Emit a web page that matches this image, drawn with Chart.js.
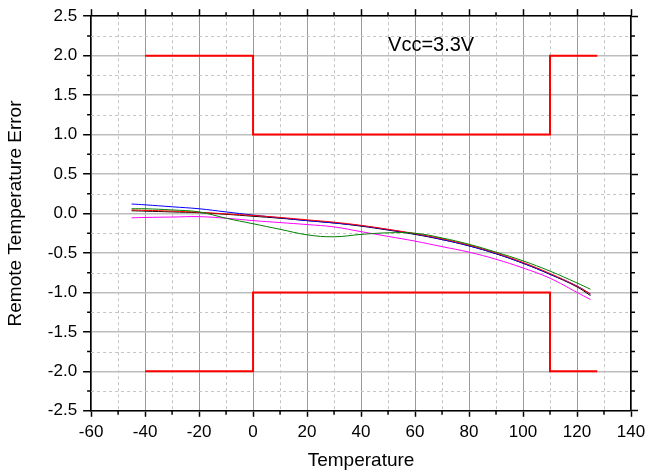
<!DOCTYPE html>
<html>
<head>
<meta charset="utf-8">
<script src="https://cdn.jsdelivr.net/npm/chart.js@4.4.0/dist/chart.umd.min.js"></script>
<style>
  html, body { margin: 0; padding: 0; background: #fff; }
</style>
</head>
<body>
<canvas id="chart" width="647" height="474"></canvas>
<script>
// temperatures where the error curves were sampled
const temps = [-45, -40, -30, -20, -10, 0, 10, 20, 30, 40, 50, 60, 70, 80, 90, 100, 110, 120, 125];

const blackErr   = [0.035, 0.03, 0.02, 0.01, -0.01, -0.035, -0.06, -0.09, -0.12, -0.16, -0.21, -0.265, -0.33, -0.41, -0.51, -0.63, -0.77, -0.93, -1.04];
const redErr     = [0.045, 0.04, 0.03, 0.015, -0.005, -0.025, -0.05, -0.08, -0.11, -0.15, -0.2, -0.255, -0.32, -0.4, -0.5, -0.62, -0.76, -0.92, -1.02];
const blueErr    = [0.12, 0.11, 0.085, 0.06, 0.02, -0.02, -0.055, -0.09, -0.12, -0.155, -0.205, -0.26, -0.33, -0.41, -0.51, -0.63, -0.77, -0.92, -1.02];
const greenErr   = [0.06, 0.06, 0.045, 0.02, -0.06, -0.13, -0.2, -0.27, -0.295, -0.265, -0.245, -0.25, -0.31, -0.39, -0.49, -0.6, -0.73, -0.88, -0.96];
const magentaErr = [-0.055, -0.05, -0.045, -0.04, -0.06, -0.09, -0.115, -0.14, -0.17, -0.23, -0.29, -0.35, -0.42, -0.49, -0.58, -0.69, -0.82, -1.0, -1.09];

// spec limits (red step lines)
const limitTemps = [-40, 0, 0, 110, 110, 127.5];
const upperLimit = [2, 2, 1, 1, 2, 2];
const lowerLimit = [-2, -2, -1, -1, -2, -2];

// minor tick positions
const xMinor = [-50, -30, -10, 10, 30, 50, 70, 90, 110, 130];
const yMinor = [-2.25, -1.75, -1.25, -0.75, -0.25, 0.25, 0.75, 1.25, 1.75, 2.25];

const note = { text: 'Vcc=3.3V', x: 50, y: 2.13 };

const pts = (xs, ys) => xs.map((x, i) => ({ x: x, y: ys[i] }));

const curve = (label, ys, color) => ({
  label: label,
  data: pts(temps, ys),
  borderColor: color,
  borderWidth: 1,
  pointRadius: 0,
  tension: 0.4,
  fill: false
});

const limitLine = (label, ys) => ({
  label: label,
  data: pts(limitTemps, ys),
  borderColor: '#ff0000',
  borderWidth: 2,
  pointRadius: 0,
  tension: 0,
  fill: false
});

const FONT = '"Liberation Sans", Arial, sans-serif';

const minorMarks = {
  id: 'minorMarks',
  beforeDatasetsDraw(chart) {
    const { ctx, chartArea: a, scales: { x, y } } = chart;
    ctx.save();
    ctx.strokeStyle = '#c4c4c4';
    ctx.lineWidth = 1;
    ctx.setLineDash([3, 3]);
    ctx.beginPath();
    xMinor.forEach(v => {
      const px = Math.round(x.getPixelForValue(v)) + 0.5;
      ctx.moveTo(px, a.top);
      ctx.lineTo(px, a.bottom);
    });
    yMinor.forEach(v => {
      const py = Math.round(y.getPixelForValue(v)) + 0.5;
      ctx.moveTo(a.left, py);
      ctx.lineTo(a.right, py);
    });
    ctx.stroke();
    ctx.restore();
  },
  afterDraw(chart) {
    const { ctx, chartArea: a, scales: { x, y } } = chart;
    const len = 4;
    ctx.save();
    ctx.strokeStyle = '#000';
    ctx.lineWidth = 1.5;
    ctx.beginPath();
    xMinor.forEach(v => {
      const px = x.getPixelForValue(v);
      ctx.moveTo(px, a.bottom); ctx.lineTo(px, a.bottom + len);
      ctx.moveTo(px, a.top); ctx.lineTo(px, a.top - len);
    });
    yMinor.forEach(v => {
      const py = y.getPixelForValue(v);
      ctx.moveTo(a.left, py); ctx.lineTo(a.left - len, py);
      ctx.moveTo(a.right, py); ctx.lineTo(a.right + len, py);
    });
    ctx.stroke();

    ctx.fillStyle = '#000';
    ctx.font = '20px ' + FONT;
    ctx.textAlign = 'left';
    ctx.textBaseline = 'middle';
    ctx.fillText(note.text, x.getPixelForValue(note.x), y.getPixelForValue(note.y));
    ctx.restore();
  }
};

const axisBase = {
  type: 'linear',
  border: { display: true, color: '#000', width: 1.5 },
};

new Chart(document.getElementById('chart'), {
  type: 'line',
  data: {
    datasets: [
      limitLine('upper limit', upperLimit),
      limitLine('lower limit', lowerLimit),
      curve('green', greenErr, '#008000'),
      curve('magenta', magentaErr, '#ff00ff'),
      curve('red', redErr, '#ff0000'),
      curve('blue', blueErr, '#0000ff'),
      curve('black', blackErr, '#000000')
    ]
  },
  options: {
    responsive: false,
    animation: false,
    layout: { padding: { top: 9, right: 9, left: 0, bottom: 2 } },
    plugins: { legend: { display: false }, tooltip: { enabled: false } },
    scales: {
      x: {
        ...axisBase,
        position: 'bottom',
        min: -60, max: 140,
        // let the "140" label hang into the right margin
        afterFit: s => { s.paddingRight = 0; },
        ticks: { stepSize: 20, color: '#000', font: { family: FONT, size: 17 }, padding: 5, maxRotation: 0 },
        grid: { color: '#9a9a9a', lineWidth: 1, tickColor: '#000', tickLength: 6, tickWidth: 1.5 },
        title: { display: true, text: 'Temperature', color: '#000', font: { family: FONT, size: 19 }, padding: { top: 2, bottom: 0 } }
      },
      y: {
        ...axisBase,
        position: 'left',
        min: -2.5, max: 2.5,
        ticks: { stepSize: 0.5, color: '#000', font: { family: FONT, size: 17 }, padding: 6, callback: v => v.toFixed(1) },
        grid: { color: '#bdbdbd', lineWidth: 1.5, tickColor: '#000', tickLength: 8, tickWidth: 1.5 },
        title: { display: true, text: 'Remote Temperature Error', color: '#000', font: { family: FONT, size: 19 }, padding: { top: 4, bottom: 15 } }
      },
      x2: {
        ...axisBase,
        position: 'top',
        min: -60, max: 140,
        ticks: { stepSize: 20, display: false },
        grid: { drawOnChartArea: false, tickColor: '#000', tickLength: 7, tickWidth: 1.5 }
      },
      y2: {
        ...axisBase,
        position: 'right',
        min: -2.5, max: 2.5,
        ticks: { stepSize: 0.5, display: false },
        grid: { drawOnChartArea: false, tickColor: '#000', tickLength: 7, tickWidth: 1.5 }
      }
    }
  },
  plugins: [minorMarks]
});
</script>
</body>
</html>
